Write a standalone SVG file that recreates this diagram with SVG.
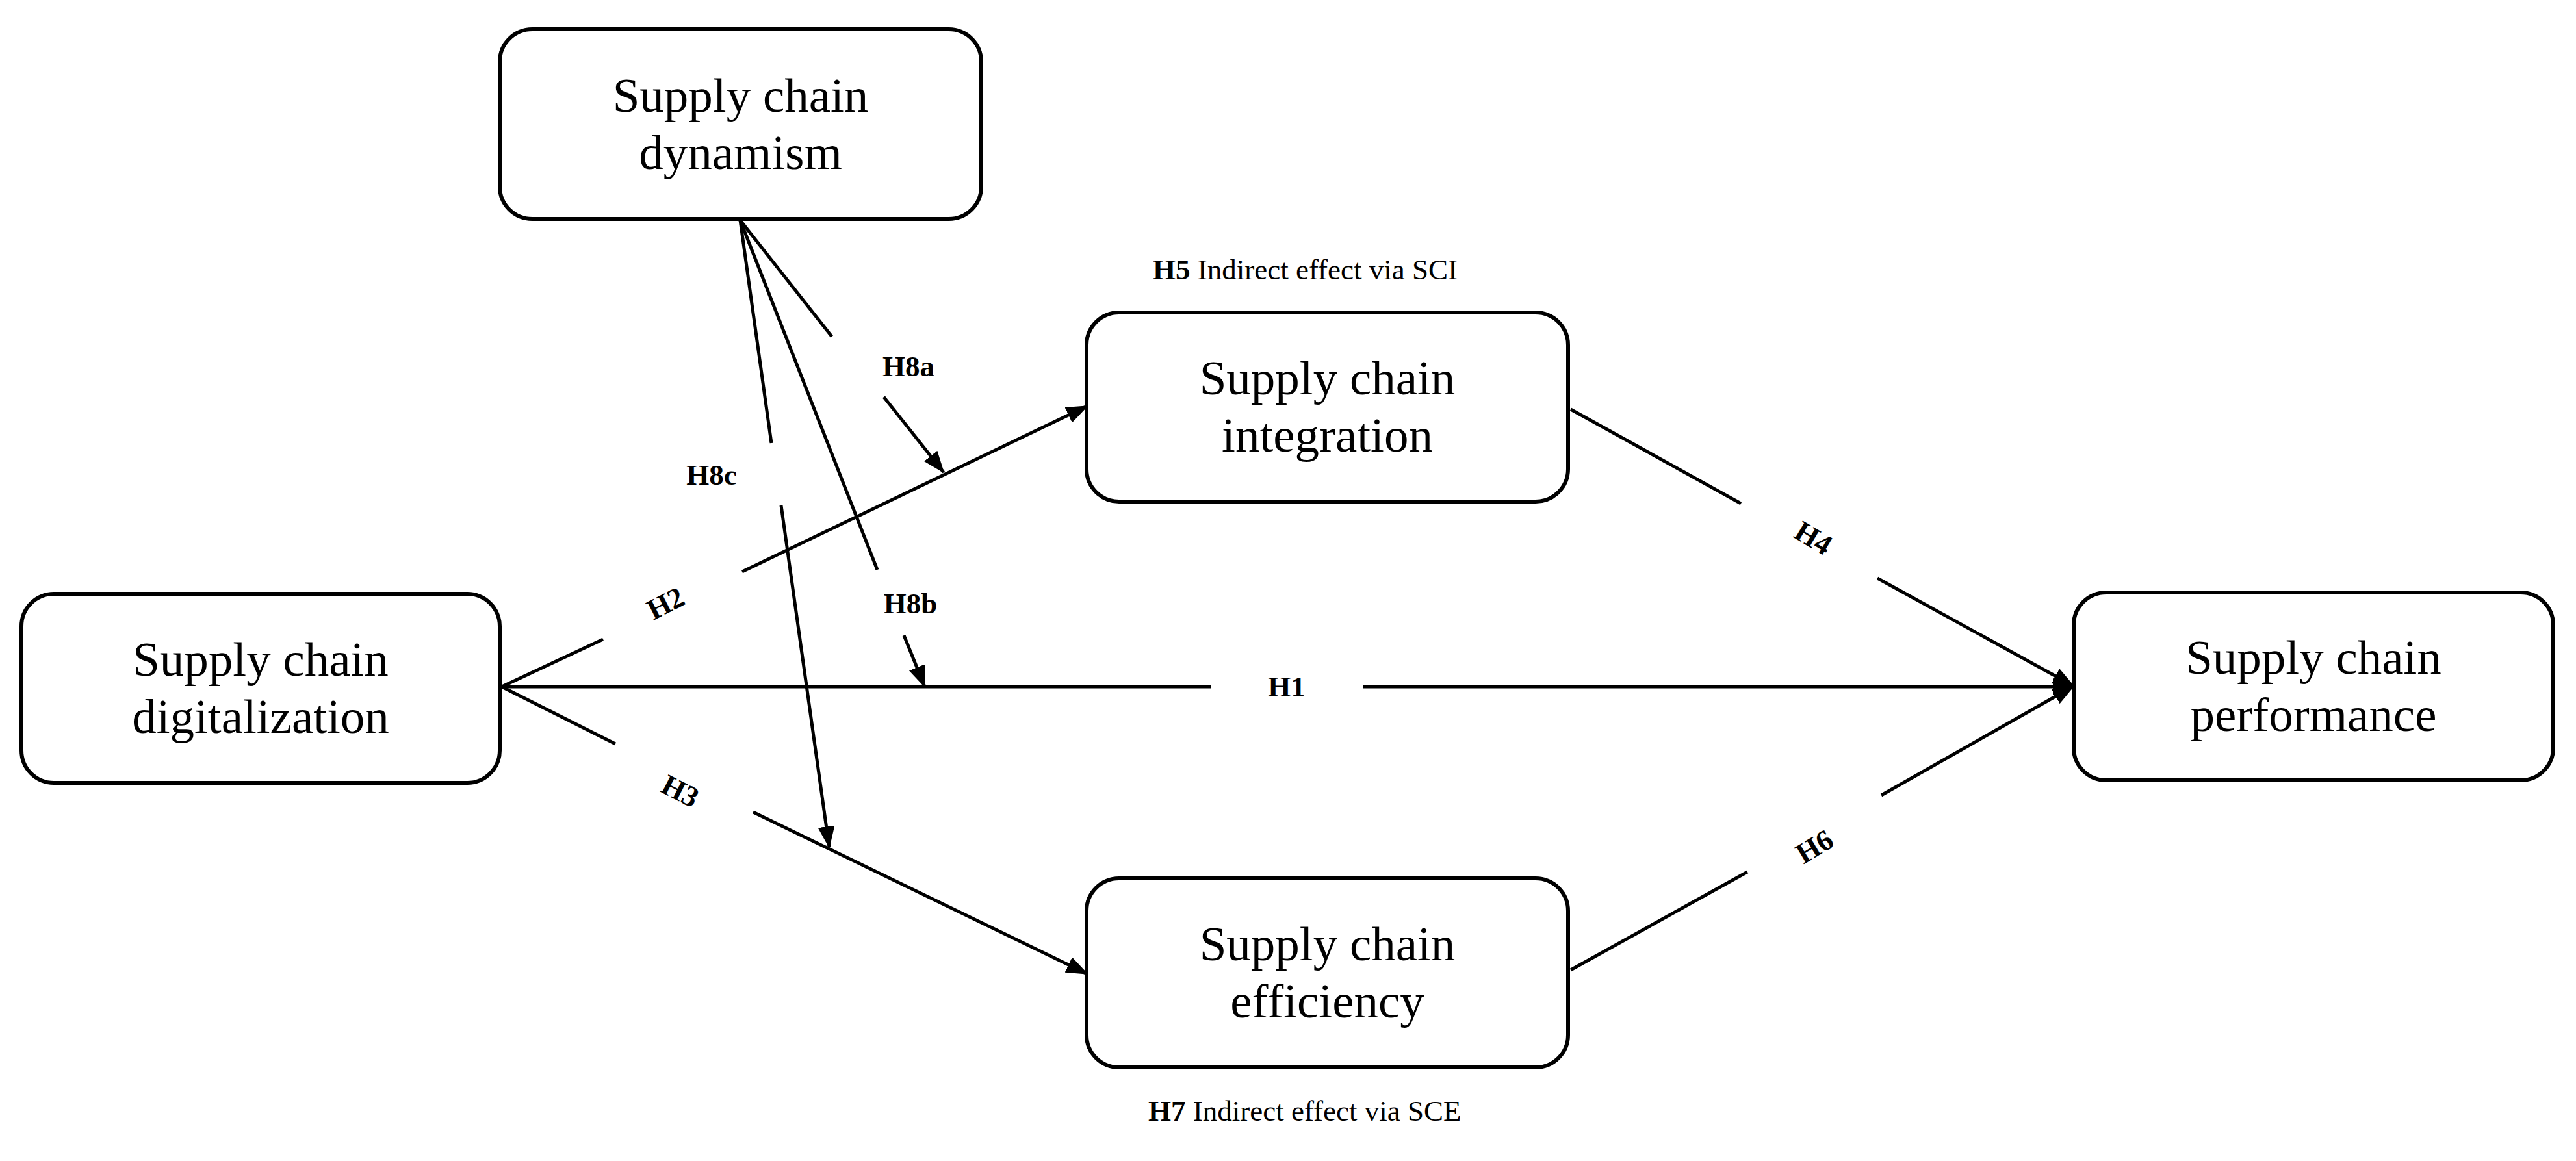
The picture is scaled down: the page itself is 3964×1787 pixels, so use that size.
<svg xmlns="http://www.w3.org/2000/svg" width="3964" height="1787" viewBox="0 0 3964 1787">
<style>
.box{fill:#fff;stroke:#000;stroke-width:6}
.t{font-family:"Liberation Serif",serif;font-size:75px;text-anchor:middle;fill:#000}
.h{font-family:"Liberation Serif",serif;font-size:45px;font-weight:bold;text-anchor:middle;fill:#000}
.n{font-family:"Liberation Serif",serif;font-size:45px;fill:#000}
.c{stroke:#000;stroke-width:5;fill:none}
</style>
<defs>
<marker id="ar" markerUnits="userSpaceOnUse" markerWidth="34" markerHeight="26" refX="32" refY="13" orient="auto">
<path d="M0,0 L34,13 L0,26 Z" fill="#000"/>
</marker>
</defs>
<rect width="3964" height="1787" fill="#fff"/>
<g id="connectors">
<line class="c" x1="772" y1="1057" x2="1863" y2="1057"/>
<line class="c" x1="2098" y1="1057" x2="3191" y2="1057" marker-end="url(#ar)"/>
<line class="c" x1="772" y1="1057" x2="928" y2="984"/>
<line class="c" x1="1142" y1="880" x2="1673" y2="625" marker-end="url(#ar)"/>
<line class="c" x1="772" y1="1057" x2="947" y2="1145"/>
<line class="c" x1="1159" y1="1250" x2="1673" y2="1499" marker-end="url(#ar)"/>
<line class="c" x1="2417" y1="630" x2="2679" y2="775"/>
<line class="c" x1="2889" y1="890" x2="3191" y2="1056" marker-end="url(#ar)"/>
<line class="c" x1="2417" y1="1493" x2="2689" y2="1342"/>
<line class="c" x1="2895" y1="1224" x2="3191" y2="1056" marker-end="url(#ar)"/>
<line class="c" x1="1139" y1="339" x2="1280" y2="518"/>
<line class="c" x1="1360" y1="611" x2="1452" y2="727" marker-end="url(#ar)"/>
<line class="c" x1="1139" y1="339" x2="1350" y2="877"/>
<line class="c" x1="1391" y1="978" x2="1423" y2="1057" marker-end="url(#ar)"/>
<line class="c" x1="1139" y1="339" x2="1187" y2="682"/>
<line class="c" x1="1202" y1="778" x2="1276" y2="1304" marker-end="url(#ar)"/>
</g>
<g id="labels">
<text class="h" x="1398" y="579">H8a</text>
<text class="h" x="1095" y="746">H8c</text>
<text class="h" x="1401" y="944">H8b</text>
<text class="h" x="1980" y="1072">H1</text>
<text class="h" transform="translate(1031,942) rotate(-27)">H2</text>
<text class="h" transform="translate(1040,1231) rotate(27)">H3</text>
<text class="h" transform="translate(2783,841) rotate(31)">H4</text>
<text class="h" transform="translate(2800,1316) rotate(-31)">H6</text>
<text class="n" x="1774" y="430"><tspan font-weight="bold">H5</tspan> Indirect effect via SCI</text>
<text class="n" x="1767" y="1725"><tspan font-weight="bold">H7</tspan> Indirect effect via SCE</text>
</g>
<g id="dynamism"><rect class="box" x="769" y="45" width="741" height="292" rx="50"/><text class="t" x="1139.5" y="172">Supply chain</text><text class="t" x="1139.5" y="260">dynamism</text></g>
<g id="digitalization"><rect class="box" x="33" y="914" width="736" height="291" rx="50"/><text class="t" x="401" y="1040">Supply chain</text><text class="t" x="401" y="1128">digitalization</text></g>
<g id="integration"><rect class="box" x="1672" y="481" width="741" height="291" rx="50"/><text class="t" x="2042.5" y="607">Supply chain</text><text class="t" x="2042.5" y="695">integration</text></g>
<g id="efficiency"><rect class="box" x="1672" y="1352" width="741" height="291" rx="50"/><text class="t" x="2042.5" y="1478">Supply chain</text><text class="t" x="2042.5" y="1566">efficiency</text></g>
<g id="performance"><rect class="box" x="3191" y="912" width="738" height="289" rx="50"/><text class="t" x="3560" y="1037">Supply chain</text><text class="t" x="3560" y="1125">performance</text></g>
</svg>
